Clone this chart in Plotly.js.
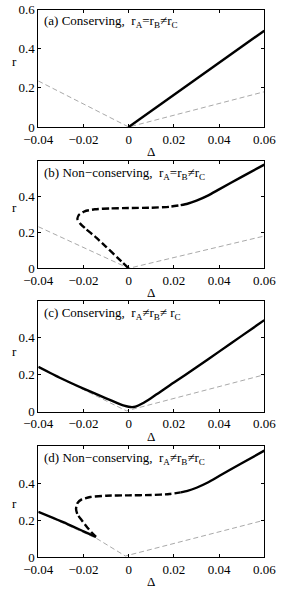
<!DOCTYPE html>
<html>
<head>
<meta charset="utf-8">
<script src="https://cdn.plot.ly/plotly-3.0.1.min.js"></script>
<style>html,body{margin:0;padding:0;background:#fff;}#chart{width:293px;height:592px;}</style>
</head>
<body>
<div id="chart"></div>
<script>
// ---- data ----
const xTickVals = [-0.04, -0.02, 0, 0.02, 0.04, 0.06];
const xTickText = ['\u22120.04', '\u22120.02', '0', '0.02', '0.04', '0.06'];
const yTickValsA = [0, 0.2, 0.4, 0.6];
const yTickTextA = ['0', '0.2', '0.4', '0.6'];
const yTickVals = [0, 0.2, 0.4];
const yTickText = ['0', '0.2', '0.4'];

const panelTitles = [
  '(a) Conserving,\u00a0 r<sub>A</sub>=r<sub>B</sub>\u2260r<sub>C</sub>',
  '(b) Non\u2212conserving,\u00a0 r<sub>A</sub>=r<sub>B</sub>\u2260r<sub>C</sub>',
  '(c) Conserving,\u00a0 r<sub>A</sub>\u2260r<sub>B</sub>\u2260 r<sub>C</sub>',
  '(d) Non\u2212conserving,\u00a0 r<sub>A</sub>\u2260r<sub>B</sub>\u2260r<sub>C</sub>'
];

// panel (a)
const grayA_d = [-0.04, 0, 0.06];
const grayA_r = [0.235, 0, 0.18];
const solidA_d = [0, 0.06];
const solidA_r = [0, 0.492];

// panel (b)
const grayB_d = [-0.04, 0, 0.06];
const grayB_r = [0.232, 0, 0.18];
const dashB_d = [0, -0.005, -0.01, -0.015, -0.019, -0.0215, -0.0227, -0.022, -0.0195, -0.015, -0.008, 0, 0.01, 0.018, 0.023];
const dashB_r = [0, 0.06, 0.12, 0.178, 0.22, 0.25, 0.275, 0.298, 0.318, 0.329, 0.334, 0.336, 0.338, 0.343, 0.352];
const solidB_d = [0.023, 0.026, 0.03, 0.035, 0.04, 0.05, 0.06];
const solidB_r = [0.352, 0.36, 0.377, 0.405, 0.44, 0.51, 0.578];

// panel (c)
const grayC_d = [-0.04, -0.001, 0.06];
const grayC_r = [0.24, 0.005, 0.2];
const solidC_d = [-0.04, -0.03, -0.02, -0.01, -0.005, -0.002, 0, 0.0015, 0.003, 0.006, 0.01, 0.02, 0.03, 0.04, 0.05, 0.06];
const solidC_r = [0.243, 0.181, 0.125, 0.073, 0.047, 0.033, 0.027, 0.025, 0.028, 0.045, 0.075, 0.158, 0.24, 0.325, 0.41, 0.495];

// panel (d)
const grayD_d = [-0.04, -0.014, -0.0015, 0.06];
const grayD_r = [0.245, 0.1, 0.007, 0.2];
const solidDL_d = [-0.04, -0.0275, -0.02, -0.0145];
const solidDL_r = [0.245, 0.182, 0.14, 0.11];
const dashD_d = [-0.0145, -0.0165, -0.0183, -0.0208, -0.0227, -0.0233, -0.0226, -0.0208, -0.017, -0.01, 0, 0.01, 0.018, 0.023];
const dashD_r = [0.11, 0.135, 0.161, 0.2, 0.232, 0.262, 0.293, 0.312, 0.325, 0.332, 0.334, 0.336, 0.341, 0.35];
const solidDR_d = [0.023, 0.026, 0.03, 0.035, 0.04, 0.05, 0.06];
const solidDR_r = [0.35, 0.358, 0.375, 0.403, 0.438, 0.507, 0.575];

// ---- layout geometry (pixels) ----
const W = 293, H = 592;
const xL = 38.3, xR = 264.3;
const panels = [ [9.5, 127], [160.7, 268.3], [300.7, 411.8], [446, 557.3] ];
const rLabelY = [62, 207, 351, 503];
const px = v => v / W;
const py = v => 1 - v / H;

const FONT = 'Liberation Serif';
const grayLine = {color: '#a9a9a9', width: 1, dash: '5px,3px'};
const blackSolid = {color: '#000', width: 2.4, shape: 'spline', smoothing: 0.5};
const blackDash = {color: '#000', width: 2.4, dash: '7px,3px', shape: 'spline', smoothing: 0.5};

function tr(d, r, line, i) {
  const s = i === 0 ? '' : String(i + 1);
  return {x: d, y: r, mode: 'lines', line: line, xaxis: 'x' + s, yaxis: 'y' + s, hoverinfo: 'skip'};
}

const data = [
  tr(grayA_d, grayA_r, grayLine, 0),
  tr(solidA_d, solidA_r, blackSolid, 0),
  tr(grayB_d, grayB_r, grayLine, 1),
  tr(dashB_d, dashB_r, blackDash, 1),
  tr(solidB_d, solidB_r, blackSolid, 1),
  tr(grayC_d, grayC_r, grayLine, 2),
  tr(solidC_d, solidC_r, blackSolid, 2),
  tr(grayD_d, grayD_r, grayLine, 3),
  tr(solidDL_d, solidDL_r, blackSolid, 3),
  tr(dashD_d, dashD_r, blackDash, 3),
  tr(solidDR_d, solidDR_r, blackSolid, 3)
];

const layout = {
  width: W, height: H,
  margin: {l: 0, r: 0, t: 0, b: 0},
  paper_bgcolor: '#fff', plot_bgcolor: '#fff',
  showlegend: false,
  font: {family: FONT, size: 13, color: '#000'},
  annotations: []
};

panels.forEach((p, i) => {
  const s = i === 0 ? '' : String(i + 1);
  layout['xaxis' + s] = {
    domain: [px(xL), px(xR)], range: [-0.04, 0.06], anchor: 'y' + s,
    tickvals: xTickVals, ticktext: xTickText,
    showline: true, linecolor: '#000', linewidth: 1, mirror: 'ticks',
    ticks: 'inside', ticklen: 3, tickcolor: '#000', tickwidth: 1,
    showgrid: false, zeroline: false,
    tickfont: {family: FONT, size: 13, color: '#000'}
  };
  layout['yaxis' + s] = {
    domain: [py(p[1]), py(p[0])], range: [0, 0.6], anchor: 'x' + s,
    tickvals: i === 0 ? yTickValsA : yTickVals, ticktext: i === 0 ? yTickTextA : yTickText,
    showline: true, linecolor: '#000', linewidth: 1, mirror: 'ticks',
    ticks: 'inside', ticklen: 3, tickcolor: '#000', tickwidth: 1,
    showgrid: false, zeroline: false,
    tickfont: {family: FONT, size: 13, color: '#000'}
  };
  layout.annotations.push({
    text: panelTitles[i], xref: 'paper', yref: 'paper',
    x: px(42), y: py(p[0] + 2), xanchor: 'left', yanchor: 'top',
    showarrow: false, font: {family: FONT, size: 13, color: '#000'}
  });
  layout.annotations.push({
    text: 'r', xref: 'paper', yref: 'paper',
    x: px(14), y: py(rLabelY[i]), xanchor: 'center', yanchor: 'middle',
    showarrow: false, font: {family: FONT, size: 13, color: '#000'}
  });
  layout.annotations.push({
    text: '\u0394', xref: 'paper', yref: 'paper',
    x: px((xL + xR) / 2), y: py(p[1] + 24.5), xanchor: 'center', yanchor: 'middle',
    showarrow: false, font: {family: FONT, size: 13, color: '#000'}
  });
});

Plotly.newPlot('chart', data, layout, {staticPlot: true, displayModeBar: false});
</script>
</body>
</html>
